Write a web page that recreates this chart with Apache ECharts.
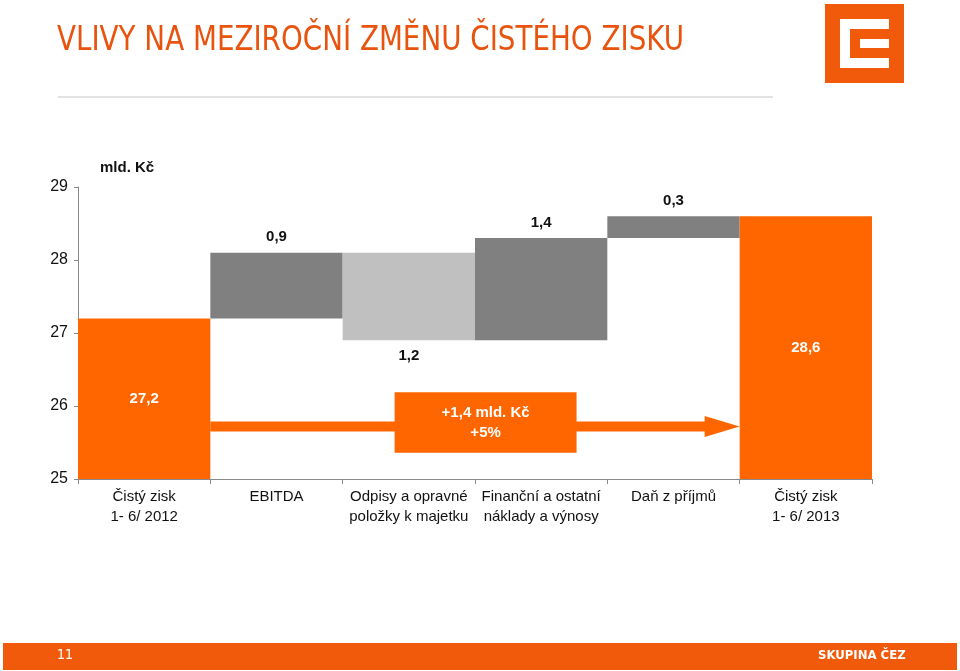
<!DOCTYPE html>
<html>
<head>
<meta charset="utf-8">
<script src="https://cdn.jsdelivr.net/npm/echarts@6/dist/echarts.min.js"></script>
<style>html,body{margin:0;padding:0;background:#fff;}#c{width:960px;height:671px;}</style>
</head>
<body>
<div id="c"></div>
<script>
// ---- data ----
const categories = ['Čistý zisk\n1- 6/ 2012', 'EBITDA', 'Odpisy a opravné\npoložky k majetku', 'Finanční a ostatní\nnáklady a výnosy', 'Daň z příjmů', 'Čistý zisk\n1- 6/ 2013'];
const startValue = 27.2;
const deltas = [0.9, -1.2, 1.4, 0.3];
const endValue = 28.6;
const yMin = 25, yMax = 29, yStep = 1;
const summaryLines = ['+1,4 mld. Kč', '+5%'];
const titleText = 'VLIVY NA MEZIROČNÍ ZMĚNU ČISTÉHO ZISKU';
const unitText = 'mld. Kč';
const pageNumber = '11';
const footerText = 'SKUPINA ČEZ';

// ---- layout / style ----
const ORANGE = '#FF6600', DARK = '#808080', LIGHT = '#C0C0C0', BRAND = '#F05A0A';
const itemColors = [ORANGE, DARK, LIGHT, DARK, DARK, ORANGE];
const arrowLevel = 25.72;
const boxLow = 25.36, boxHigh = 26.19;
const boxCenterPos = 2.58, boxWidthBands = 1.375;

// build waterfall
const base = [0], heights = [startValue];
let run = startValue;
deltas.forEach(d => { base.push(d > 0 ? run : run + d); heights.push(Math.abs(d)); run += d; });
base.push(0); heights.push(endValue);

const fmt = v => String(v.toFixed(1)).replace('.', ',');
const valueData = heights.map((h, i) => {
  const isTotal = i === 0 || i === heights.length - 1;
  const neg = !isTotal && deltas[i - 1] < 0;
  return {
    value: h,
    itemStyle: { color: itemColors[i] },
    label: {
      show: true,
      position: isTotal ? 'inside' : (neg ? 'bottom' : 'top'),
      distance: 8,
      color: isTotal ? '#fff' : '#111',
      fontWeight: 'bold',
      fontSize: 15,
      fontFamily: 'Liberation Sans, Arial, sans-serif',
      formatter: () => fmt(isTotal ? h : Math.abs(deltas[i - 1]))
    }
  };
});

const chart = echarts.init(document.getElementById('c'));
const option = {
  animation: false,
  backgroundColor: '#fff',
  grid: { left: 78, right: 88, top: 187, bottom: 192, containLabel: false },
  xAxis: {
    type: 'category',
    data: categories,
    boundaryGap: true,
    axisLine: { lineStyle: { color: '#8a8a8a', width: 1 } },
    axisTick: { show: true, length: 5, lineStyle: { color: '#8a8a8a' } },
    axisLabel: { color: '#111', fontSize: 15, lineHeight: 20, margin: 8, interval: 0, fontFamily: 'Liberation Sans, Arial, sans-serif' }
  },
  yAxis: {
    type: 'value', min: yMin, max: yMax, interval: yStep,
    axisLine: { show: true, lineStyle: { color: '#8a8a8a', width: 1 } },
    axisTick: { show: true, length: 4, lineStyle: { color: '#8a8a8a' } },
    splitLine: { show: false },
    axisLabel: { color: '#111', fontSize: 16, margin: 10, fontFamily: 'Liberation Sans, Arial, sans-serif' }
  },
  series: [
    { type: 'bar', stack: 'w', data: base, itemStyle: { color: 'rgba(0,0,0,0)' }, barCategoryGap: '0%', silent: true },
    { type: 'bar', stack: 'w', data: valueData, barCategoryGap: '0%' }
  ]
};
chart.setOption(option);

// annotations positioned via axes
const px = (c, v) => chart.convertToPixel({ gridIndex: 0 }, [c, v]);
const c0 = px(0, yMin)[0], c1 = px(1, yMin)[0];
const band = c1 - c0;
const leftEdge = i => px(i, yMin)[0] - band / 2;
const ay = px(0, arrowLevel)[1];
const ax0 = leftEdge(1), ax1 = leftEdge(5);
const headLen = 35, shaftH = 10, headH = 21;
const bx0 = c0 + boxCenterPos * band - boxWidthBands * band / 2;
const bw = boxWidthBands * band;
const by0 = px(0, boxHigh)[1], by1 = px(0, boxLow)[1];

chart.setOption({
  graphic: [
    { type: 'text', x: 57, y: 25, scaleX: 0.935, style: { text: titleText, fill: '#E8530E', fontSize: 33, fontFamily: 'Liberation Sans Narrow, DejaVu Sans Condensed, sans-serif' } },
    { type: 'rect', shape: { x: 58, y: 96, width: 715, height: 2 }, style: { fill: '#e2e2e2' } },
    { type: 'rect', shape: { x: 825, y: 4, width: 79, height: 79 }, style: { fill: BRAND } },
    { type: 'rect', shape: { x: 840, y: 19, width: 49, height: 49 }, style: { fill: '#fff' } },
    { type: 'rect', shape: { x: 850, y: 29, width: 39, height: 29 }, style: { fill: BRAND } },
    { type: 'rect', shape: { x: 860, y: 39, width: 29, height: 9 }, style: { fill: '#fff' } },
    { type: 'text', left: 100, top: 160, style: { text: unitText, fill: '#111', fontSize: 15, fontWeight: 'bold', fontFamily: 'Liberation Sans, Arial, sans-serif' } },
    { type: 'polygon', shape: { points: [
      [ax0, ay - shaftH / 2], [ax1 - headLen, ay - shaftH / 2], [ax1 - headLen, ay - headH / 2], [ax1, ay],
      [ax1 - headLen, ay + headH / 2], [ax1 - headLen, ay + shaftH / 2], [ax0, ay + shaftH / 2]] },
      style: { fill: ORANGE }, z: 10 },
    { type: 'rect', shape: { x: bx0, y: by0, width: bw, height: by1 - by0 }, style: { fill: ORANGE }, z: 11 },
    { type: 'text', x: bx0 + bw / 2, y: (by0 + by1) / 2, z: 12,
      style: { text: summaryLines.join('\n'), fill: '#fff', fontSize: 15, fontWeight: 'bold', lineHeight: 20, align: 'center', verticalAlign: 'middle', fontFamily: 'Liberation Sans, Arial, sans-serif' } },
    { type: 'rect', shape: { x: 3, y: 643, width: 954, height: 27 }, style: { fill: BRAND } },
    { type: 'text', left: 57, top: 648, style: { text: pageNumber, fill: '#fff', fontSize: 14, fontFamily: 'Liberation Sans Narrow, DejaVu Sans Condensed, sans-serif' } },
    { type: 'text', left: 818, top: 649, style: { text: footerText, fill: '#fff', fontSize: 13, fontWeight: 'bold', fontFamily: 'DejaVu Sans Condensed, Liberation Sans Narrow, sans-serif' } }
  ]
});
</script>
</body>
</html>
